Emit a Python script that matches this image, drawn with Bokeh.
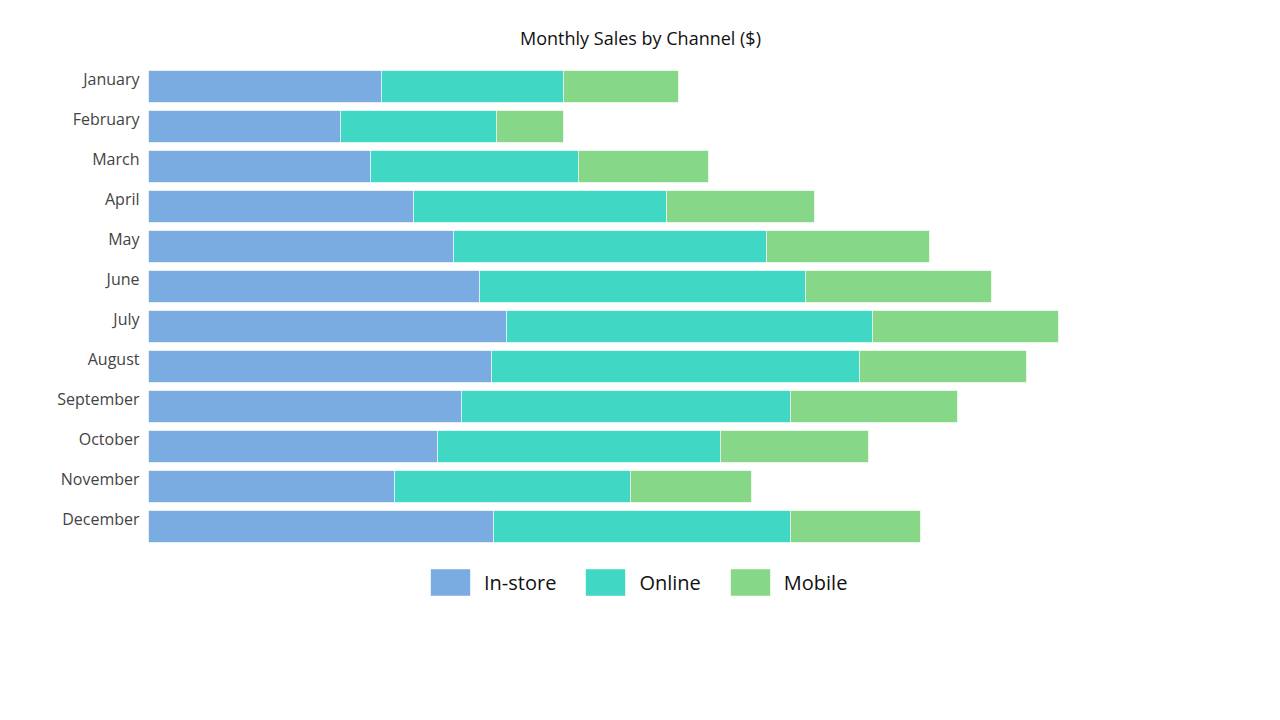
from bokeh.plotting import figure
from bokeh.models import Range1d, ColumnDataSource
from bokeh.core.properties import value
from bokeh.embed import file_html
from bokeh.resources import INLINE

months = ["January", "February", "March", "April", "May", "June",
          "July", "August", "September", "October", "November", "December"]
channels = ["In-store", "Online", "Mobile"]
instore = [23300, 19200, 22200, 26500, 30500, 33100, 35800, 34300, 31300, 28900, 24600, 34500]
online = [18200, 15600, 20800, 25300, 31300, 32600, 36600, 36800, 32900, 28300, 23600, 29700]
mobile = [11500, 6700, 13000, 14800, 16300, 18600, 18600, 16700, 16700, 14800, 12100, 13000]
colors = ["#7aabe1", "#40d8c4", "#86d788"]

FONT = "Open Sans"
TOP = 50

src = ColumnDataSource(dict(
    idx=list(range(len(months))), month=months,
    **{"In-store": instore, "Online": online, "Mobile": mobile}))

p = figure(width=1280, height=720, output_backend="svg", toolbar_location=None,
           x_range=Range1d(-14800, 113200),
           y_range=Range1d(15.85, -(86 - TOP) / 40),
           min_border_left=0, min_border_right=0, min_border_bottom=0,
           min_border_top=TOP, title="Monthly Sales by Channel ($)")
p.axis.visible = False
p.grid.visible = False
p.outline_line_color = None
p.background_fill_color = "white"
p.border_fill_color = "white"

p.title.align = "center"
p.title.text_font = FONT
p.title.text_font_size = "18px"
p.title.text_font_style = "normal"
p.title.text_color = "#111111"
p.title.standoff = 2

p.hbar_stack(channels, y="idx", height=0.8, color=colors, source=src,
             line_color="white", line_alpha=0.6, line_width=1,
             legend_label=channels)

p.text(x=0, y="idx", text="month", source=src, x_offset=-9, y_offset=-8,
       text_align="right", text_baseline="alphabetic",
       text_font=value(FONT), text_font_size="16px", text_color="#444444")

lg = p.legend[0]
lg.orientation = "horizontal"
lg.location = (425, 121)
lg.glyph_width = 50
lg.glyph_height = 34
lg.label_height = 34
lg.label_standoff = 9
lg.spacing = 24
lg.padding = 0
lg.margin = 0
lg.border_line_color = None
lg.background_fill_alpha = 0
lg.label_text_font = FONT
lg.label_text_font_size = "20px"
lg.label_text_color = "#111111"

open("out.html", "w").write(file_html(p, INLINE))
